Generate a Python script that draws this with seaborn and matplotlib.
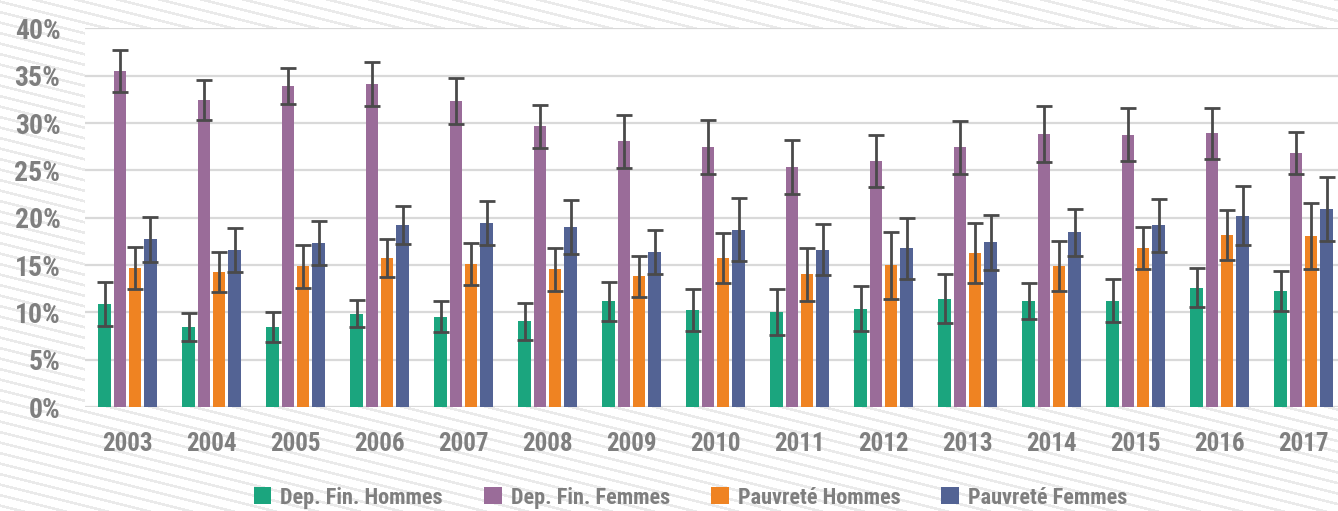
import numpy as np
import pandas as pd
import matplotlib
matplotlib.use("Agg")
import matplotlib.pyplot as plt
import seaborn as sns
from matplotlib.ticker import FuncFormatter

# Données (en %)
years = [str(y) for y in range(2003, 2018)]
series = ["Dep. Fin. Hommes", "Dep. Fin. Femmes", "Pauvreté Hommes", "Pauvreté Femmes"]

dep_hommes = [10.9, 8.45, 8.45, 9.85, 9.55, 9.05, 11.15, 10.25, 10.05, 10.4, 11.45, 11.2, 11.25, 12.6, 12.25]
dep_femmes = [35.5, 32.4, 33.9, 34.1, 32.3, 29.65, 28.1, 27.5, 25.35, 26.0, 27.45, 28.85, 28.75, 28.9, 26.8]
pauv_hommes = [14.7, 14.25, 14.85, 15.75, 15.1, 14.55, 13.8, 15.75, 14.05, 14.95, 16.25, 14.9, 16.8, 18.2, 18.1]
pauv_femmes = [17.7, 16.6, 17.3, 19.2, 19.45, 19.05, 16.4, 18.75, 16.6, 16.75, 17.4, 18.45, 19.2, 20.2, 20.9]

err_dep_hommes = [2.35, 1.5, 1.55, 1.45, 1.6, 1.95, 2.05, 2.25, 2.4, 2.4, 2.55, 1.95, 2.25, 2.05, 2.1]
err_dep_femmes = [2.2, 2.1, 1.9, 2.35, 2.45, 2.3, 2.8, 2.85, 2.85, 2.75, 2.8, 3.0, 2.8, 2.7, 2.2]
err_pauv_hommes = [2.25, 2.1, 2.3, 2.05, 2.2, 2.3, 2.15, 2.6, 2.8, 3.5, 3.2, 2.65, 2.25, 2.65, 3.5]
err_pauv_femmes = [2.4, 2.3, 2.3, 2.0, 2.3, 2.85, 2.35, 3.3, 2.7, 3.2, 2.9, 2.5, 2.8, 3.1, 3.35]

colors = ["#1ba57e", "#9a6c99", "#ef8322", "#536394"]
text_gray = "#7f7f7f"
font = ["Roboto Condensed", "DejaVu Sans"]

values = [dep_hommes, dep_femmes, pauv_hommes, pauv_femmes]
errors = [err_dep_hommes, err_dep_femmes, err_pauv_hommes, err_pauv_femmes]

df = pd.DataFrame({
    "annee": years * 4,
    "serie": np.repeat(series, len(years)),
    "valeur": np.concatenate(values),
    "erreur": np.concatenate(errors),
})

sns.set_style("white")
plt.rcParams["font.family"] = font
plt.rcParams["font.weight"] = "bold"
plt.rcParams["font.stretch"] = "condensed"

fig = plt.figure(figsize=(13.38, 5.11), dpi=100)

# fond rayé (texture décorative)
bg = fig.add_axes([0, 0, 1, 1], zorder=-5)
h, w = 511, 1338
yy, xx = np.mgrid[0:h, 0:w]
stripes = ((yy - 0.25 * xx) % 10.5) < 2.6
img = np.where(stripes, 0.915, 1.0)
bg.imshow(img, cmap="gray", vmin=0, vmax=1, aspect="auto", interpolation="bilinear")
bg.axis("off")

ax = fig.add_axes([0.0639, 0.2035, 0.9361, 0.741], zorder=1)
ax.set_facecolor("white")

sns.barplot(data=df, x="annee", y="valeur", hue="serie", order=years,
            hue_order=series, palette=colors, width=0.73, gap=0.2,
            errorbar=None, saturation=1, linewidth=0, ax=ax)

# barres d'erreur placées sur les barres dessinées par seaborn
for container, err in zip(ax.containers, errors):
    xs = [b.get_x() + b.get_width() / 2 for b in container]
    ys = [b.get_height() for b in container]
    ax.errorbar(xs, ys, yerr=err, fmt="none", ecolor="#4a4a4a",
                elinewidth=2, capsize=6, capthick=2, zorder=5)

ax.set_ylim(0, 40)
ax.set_xlim(-0.5, 14.41)
ax.set_yticks(range(0, 41, 5))
ax.yaxis.set_major_formatter(FuncFormatter(lambda v, p: f"{v:.0f}%"))
ax.grid(axis="y", color="#d9d9d9", linewidth=1.6, zorder=0)
ax.set_axisbelow(True)
for s in ax.spines.values():
    s.set_visible(False)
ax.tick_params(axis="y", length=0, pad=18, labelsize=20, labelcolor=text_gray)
ax.tick_params(axis="x", length=0, pad=18, labelsize=18, labelcolor=text_gray)
ax.set_xlabel("")
ax.set_ylabel("")

handles, labels = ax.get_legend_handles_labels()
ax.get_legend().remove()
fig.legend(handles, labels, loc="center", bbox_to_anchor=(0.516, 0.026), ncol=4,
           frameon=False, handlelength=0.8, handleheight=0.8, handletextpad=0.4,
           columnspacing=1.85,
           prop={"family": font, "weight": "bold", "size": 16, "stretch": "condensed"},
           labelcolor=text_gray)

fig.savefig("out.png", dpi=100)
